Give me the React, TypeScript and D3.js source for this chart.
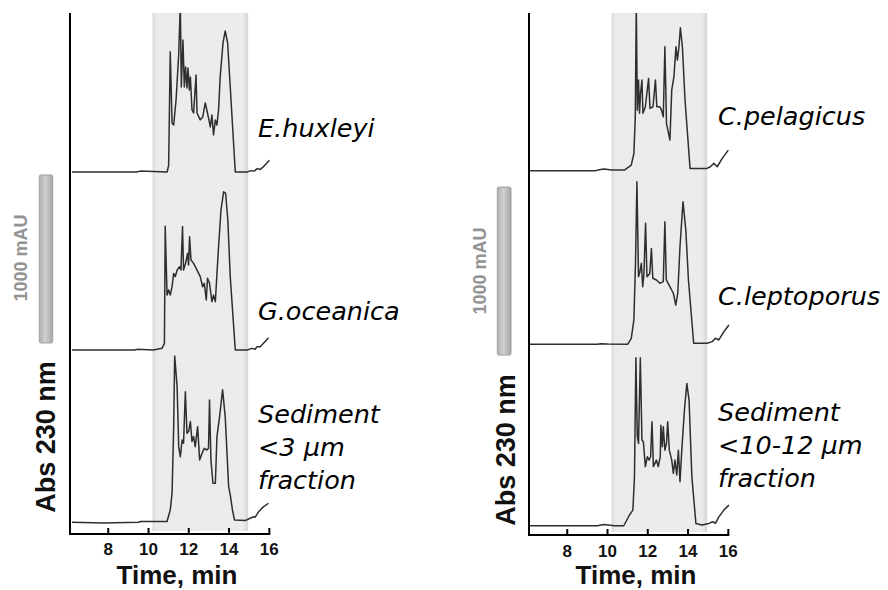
import React from 'react';
import * as d3 from 'd3';

// ---------- DATA ----------
const timeTicks = [8, 10, 12, 14, 16];
const timeDomain: [number, number] = [6.1, 16];
const bandRange: [number, number] = [10.2, 14.95];
const scaleBarMAU = 1000;

// [time (min), absorbance above baseline (mAU)]
const eHuxleyi: [number, number][] = [
  [6.2, 0], [9.4, 0], [9.6, 5], [9.9, 4], [10.93, 0], [11.0, 40], [11.08, 716], [11.17, 290], [11.25, 280],
  [11.37, 430], [11.5, 700], [11.58, 1000], [11.63, 506], [11.71, 786], [11.78, 506], [11.84, 625], [11.91, 500],
  [11.96, 619], [12.03, 488], [12.08, 565], [12.16, 369], [12.24, 351], [12.36, 577], [12.41, 351], [12.57, 310],
  [12.69, 327], [12.82, 411], [12.93, 351], [13.07, 268], [13.15, 339], [13.23, 220], [13.32, 310], [13.4, 280],
  [13.48, 369], [13.56, 565], [13.7, 768], [13.81, 839], [13.93, 768], [14.06, 506], [14.31, 0], [14.89, 0],
  [15.1, 8], [15.25, 5], [15.4, 20], [15.55, 15], [15.7, 30], [16.0, 70],
];
const gOceanica: [number, number][] = [
  [6.2, 0], [9.3, 0], [9.43, 4], [10.24, 0], [10.67, 10], [10.79, 40], [10.83, 737], [10.92, 327], [11.0, 357],
  [11.08, 327], [11.17, 377], [11.25, 456], [11.33, 437], [11.42, 476], [11.54, 496], [11.61, 476], [11.69, 735],
  [11.74, 476], [11.84, 516], [11.94, 575], [11.99, 506], [12.04, 675], [12.11, 536], [12.24, 516], [12.41, 476],
  [12.57, 437], [12.69, 377], [12.77, 397], [12.87, 298], [12.93, 427], [13.03, 397], [13.15, 288], [13.23, 327],
  [13.32, 288], [13.4, 456], [13.48, 615], [13.6, 833], [13.73, 942], [13.83, 933], [13.94, 774], [14.06, 437],
  [14.31, 0], [14.89, 0], [15.14, 10], [15.3, 5], [15.39, 20], [15.55, 20], [15.71, 40], [15.96, 73],
];
const sediment3: [number, number][] = [
  [6.2, 0], [7.76, -4], [9.5, 0], [9.6, 4], [10.92, 4], [11.08, 73], [11.17, 173], [11.25, 569], [11.3, 990],
  [11.42, 807], [11.5, 450], [11.58, 390], [11.67, 490], [11.74, 470], [11.83, 777], [11.91, 530], [11.99, 540],
  [12.08, 599], [12.16, 480], [12.24, 510], [12.32, 450], [12.44, 569], [12.54, 371], [12.66, 411], [12.77, 440],
  [12.9, 430], [12.98, 440], [13.03, 728], [13.1, 371], [13.2, 232], [13.32, 232], [13.4, 510], [13.53, 629],
  [13.68, 788], [13.81, 629], [13.98, 212], [14.06, 163], [14.17, 73], [14.27, 14], [14.8, 10], [15.05, 24],
  [15.22, 33], [15.3, 30], [15.47, 63], [15.72, 93], [15.96, 113],
];
const cPelagicus: [number, number][] = [
  [6.15, 0], [9.4, 0], [9.5, 4], [9.83, 10], [10.2, 4], [10.84, 4], [11.18, 34], [11.31, 103], [11.38, 321],
  [11.43, 1000], [11.48, 361], [11.54, 540], [11.59, 343], [11.64, 460], [11.71, 540], [11.76, 343], [11.88, 381],
  [12.04, 550], [12.11, 371], [12.26, 381], [12.38, 540], [12.45, 381], [12.6, 381], [12.68, 361], [12.77, 321],
  [12.85, 738], [12.93, 282], [13.1, 183], [13.19, 480], [13.3, 560], [13.4, 738], [13.47, 659], [13.55, 738],
  [13.62, 851], [13.72, 738], [13.85, 421], [14.1, 14], [14.94, 14], [15.11, 24], [15.28, 44], [15.45, 24],
  [15.7, 74], [16.0, 123],
];
const cLeptoporus: [number, number][] = [
  [6.15, 0], [9.5, 0], [9.67, 4], [10.0, 2], [11.0, 0], [11.18, 36], [11.31, 145], [11.39, 482], [11.46, 968],
  [11.54, 402], [11.61, 432], [11.68, 482], [11.75, 343], [11.81, 422], [11.89, 720], [11.96, 402], [12.1, 422],
  [12.18, 571], [12.25, 393], [12.43, 383], [12.6, 363], [12.77, 373], [12.85, 730], [12.92, 383], [13.1, 343],
  [13.27, 304], [13.39, 234], [13.49, 304], [13.6, 581], [13.75, 849], [13.89, 680], [14.02, 383], [14.28, 6],
  [14.94, 6], [15.2, 16], [15.36, 36], [15.53, 26], [15.78, 75], [16.03, 115],
];
const sediment10: [number, number][] = [
  [6.15, 0], [9.5, 0], [9.83, 8], [10.34, 0], [10.81, 0], [11.09, 64], [11.26, 93], [11.34, 292], [11.41, 1000],
  [11.48, 530], [11.54, 490], [11.63, 1000], [11.71, 510], [11.78, 500], [11.88, 352], [11.98, 411], [12.06, 391],
  [12.14, 411], [12.21, 619], [12.28, 352], [12.43, 391], [12.52, 352], [12.62, 411], [12.65, 599], [12.72, 470],
  [12.77, 589], [12.85, 450], [12.93, 490], [12.99, 619], [13.07, 450], [13.19, 391], [13.27, 312], [13.35, 391],
  [13.44, 302], [13.52, 450], [13.6, 262], [13.69, 450], [13.82, 688], [13.94, 847], [14.05, 748], [14.19, 292],
  [14.39, 14], [14.69, 4], [15.03, 14], [15.23, 24], [15.36, 14], [15.53, 53], [15.78, 93], [16.03, 123],
];

const leftLabels: string[][] = [['E.huxleyi'], ['G.oceanica'], ['Sediment', '<3 µm', 'fraction']];
const rightLabels: string[][] = [['C.pelagicus'], ['C.leptoporus'], ['Sediment', '<10-12 µm', 'fraction']];
const xTitle = 'Time, min';
const yTitle = 'Abs 230 nm';
const scaleLabel = '1000 mAU';

// ---------- LAYOUT ----------
const PX_PER_MAU = 0.168;
const TOP = 13;

type PanelCfg = {
  x0: number; x1: number; axisY: number;
  offsets: number[]; series: [number, number][][]; labels: string[][];
  labelX: number; labelY: number[];
  barX: number; barW: number; barFrom: number;
  scaleTextX: number; scaleTextY: number;
  yTitleX: number; yTitleY: number;
  xTitleX: number; xTitleY: number; tickLabelY: number;
};

const panels: PanelCfg[] = [
  {
    x0: 70, x1: 269.3, axisY: 534,
    offsets: [2155, 1095, 70], series: [eHuxleyi, gOceanica, sediment3], labels: leftLabels,
    labelX: 258, labelY: [137, 320, 423],
    barX: 39.3, barW: 13.4, barFrom: 1137,
    scaleTextX: 27, scaleTextY: 258,
    yTitleX: 55, yTitleY: 437,
    xTitleX: 177, xTitleY: 583.5, tickLabelY: 555,
  },
  {
    x0: 529, x1: 728.3, axisY: 535,
    offsets: [2168, 1135, 55], series: [cPelagicus, cLeptoporus, sediment10], labels: rightLabels,
    labelX: 718, labelY: [125, 305, 421],
    barX: 497.3, barW: 13.7, barFrom: 1071,
    scaleTextX: 485.5, scaleTextY: 271,
    yTitleX: 515, yTitleY: 450,
    xTitleX: 636, xTitleY: 584, tickLabelY: 557,
  },
];

const LINE_SPACING = 33;
const AXIS_FONT = "'Liberation Sans', Arial, sans-serif";
const LABEL_FONT = "'DejaVu Sans', Verdana, sans-serif";

function Panel({ p, i }: { p: PanelCfg; i: number }) {
  const x = d3.scaleLinear().domain(timeDomain).range([p.x0, p.x1]);
  const y = d3.scaleLinear().domain([0, (p.axisY - TOP) / PX_PER_MAU]).range([p.axisY, TOP]);
  const clipId = `clip-${i}`;
  const bx0 = x(bandRange[0]);
  const bx1 = x(bandRange[1]);
  return (
    <g>
      <defs>
        <clipPath id={clipId}>
          <rect x={p.x0} y={TOP} width={p.x1 - p.x0 + 10} height={p.axisY - TOP} />
        </clipPath>
      </defs>
      {/* shaded band */}
      <rect x={bx0} y={TOP} width={bx1 - bx0} height={p.axisY - TOP - 3} fill="url(#bandGrad)" />
      {/* traces */}
      <g clipPath={`url(#${clipId})`}>
        {p.series.map((s, k) => {
          const line = d3.line<[number, number]>()
            .x(d => x(d[0]))
            .y(d => y(d[1] + p.offsets[k]));
          return (
            <path key={k} d={line(s) || ''} fill="none" stroke="#2e2e2e" strokeWidth={1.5}
              strokeLinejoin="round" />
          );
        })}
      </g>
      {/* y axis */}
      <line x1={p.x0} x2={p.x0} y1={TOP} y2={p.axisY + 1} stroke="#000" strokeWidth={2} />
      {/* x axis */}
      <line x1={p.x0} x2={p.x1 + 1} y1={p.axisY} y2={p.axisY} stroke="#000" strokeWidth={2} />
      {timeTicks.map(t => (
        <g key={t}>
          <line x1={x(t)} x2={x(t)} y1={p.axisY} y2={p.axisY - 6} stroke="#000" strokeWidth={2} />
          <text x={x(t)} y={p.tickLabelY} textAnchor="middle" fontFamily={AXIS_FONT}
            fontWeight="bold" fontSize={17} fill="#111">{t}</text>
        </g>
      ))}
      <text x={p.xTitleX} y={p.xTitleY} textAnchor="middle" fontFamily={AXIS_FONT}
        fontWeight="bold" fontSize={26} fill="#111">{xTitle}</text>
      <text transform={`translate(${p.yTitleX},${p.yTitleY}) rotate(-90)`} textAnchor="middle"
        fontFamily={AXIS_FONT} fontWeight="bold" fontSize={27} fill="#111">{yTitle}</text>
      {/* scale bar */}
      <rect x={p.barX} y={y(p.barFrom + scaleBarMAU)} width={p.barW}
        height={y(p.barFrom) - y(p.barFrom + scaleBarMAU)} fill="url(#barGrad)" stroke="#a0a0a0"
        strokeWidth={1} rx={1.5} />
      <text transform={`translate(${p.scaleTextX},${p.scaleTextY}) rotate(-90)`} textAnchor="middle"
        fontFamily={AXIS_FONT} fontWeight="bold" fontSize={18} fill="#939393">{scaleLabel}</text>
      {/* species labels */}
      {p.labels.map((lines, k) => (
        <text key={k} x={p.labelX} y={p.labelY[k]} fontFamily={LABEL_FONT} fontStyle="italic"
          fontSize={25.5} fill="#000">
          {lines.map((l, j) => (
            <tspan key={j} x={p.labelX} y={p.labelY[k] + j * LINE_SPACING}>{l}</tspan>
          ))}
        </text>
      ))}
    </g>
  );
}

export default function App() {
  return (
    <svg width={888} height={590} style={{ position: 'absolute', left: 0, top: 0, background: '#fff' }}>
      <defs>
        <linearGradient id="bandGrad" x1="0" x2="1" y1="0" y2="0">
          <stop offset="0" stopColor="#d9d9d9" />
          <stop offset="0.04" stopColor="#ebebeb" />
          <stop offset="0.94" stopColor="#ececec" />
          <stop offset="1" stopColor="#d6d6d6" />
        </linearGradient>
        <linearGradient id="barGrad" x1="0" x2="1" y1="0" y2="0">
          <stop offset="0" stopColor="#b0b0b0" />
          <stop offset="0.45" stopColor="#d0d0d0" />
          <stop offset="1" stopColor="#a5a5a5" />
        </linearGradient>
      </defs>
      <rect x={0} y={0} width={888} height={590} fill="#fff" />
      {panels.map((p, i) => <Panel key={i} p={p} i={i} />)}
    </svg>
  );
}
